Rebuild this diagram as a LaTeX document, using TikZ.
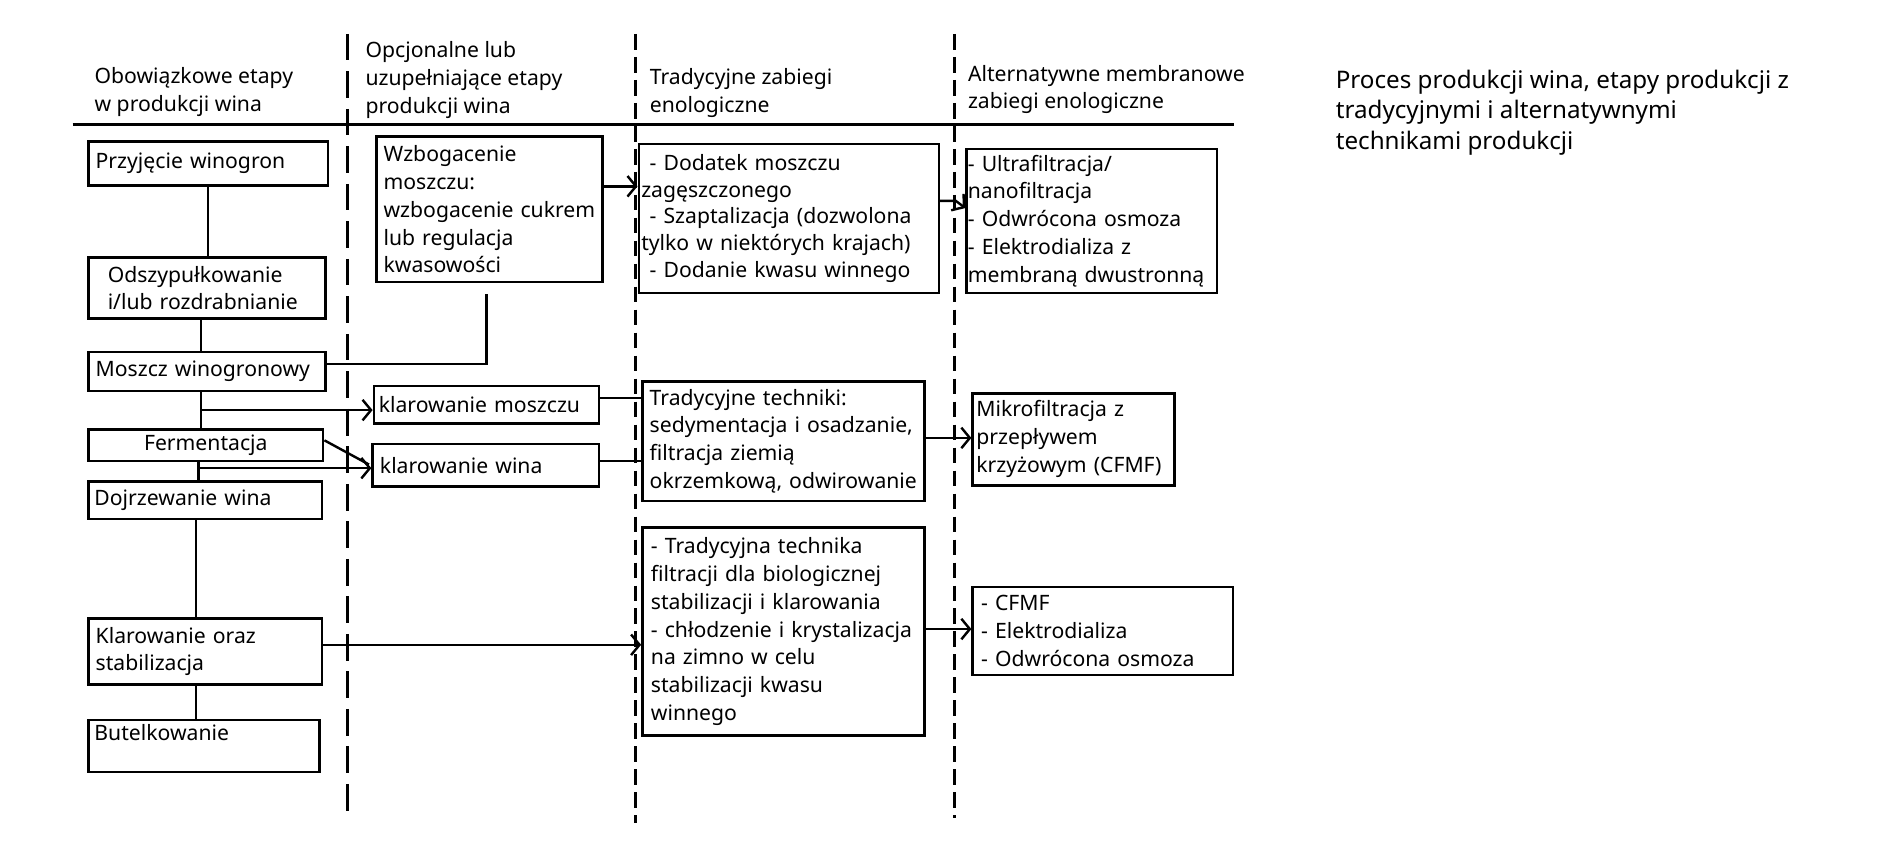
\documentclass[tikz,border=0pt]{standalone}
\usepackage{fontspec}
\setmainfont{Noto Sans}
\usetikzlibrary{arrows.meta,calc}
\newcommand\fs{\fontsize{17.5}{23}\selectfont}
\newcommand\fst{\fontsize{17.5}{22}\selectfont}
\newcommand\ind{\hspace*{7pt}}
\begin{document}
\begin{tikzpicture}[x=1pt,y=-1pt,
  bx/.style={draw, line width=2.2pt, anchor=north west, align=left, inner ysep=0pt, font=\fs},
  hd/.style={anchor=west, align=left, inner sep=0pt, font=\fs},
  ln/.style={line width=2pt},
  arr/.style={line width=2pt, -{Straight Barb[length=7pt,width=17pt,line width=2pt]}},
  dl1/.style={line width=2.4pt, dash pattern=on 22pt off 9pt},
  dl2/.style={line width=2.4pt, dash pattern=on 13pt off 6pt},
]
\useasboundingbox (0,0) rectangle (1564,698);

% header texts
\node[hd] (h1) at (78,76) {Obowiązkowe etapy\\w produkcji wina};
\node[hd] (h2) at (302,66) {Opcjonalne lub\\uzupełniające etapy\\produkcji wina};
\node[hd] (h3) at (537,77) {Tradycyjne zabiegi\\enologiczne};
\node[hd] (h4) at (800,74) {Alternatywne membranowe\\zabiegi enologiczne};
\node[hd, font=\fontsize{20}{25}\selectfont] (title) at (1104,93) {Proces produkcji wina, etapy produkcji z\\tradycyjnymi i alternatywnymi\\technikami produkcji};

% header rule and column separators
\draw[line width=2.5pt] (60,103) -- (1020,103);
\draw[dl1] (287,28) -- (287,672);
\draw[dl2] (525,28) -- (525,680);
\draw[dl2] (789,28) -- (789,676);

% column 1
\node[bx, inner xsep=6pt, text width=186pt, minimum height=36pt] (p1) at (72,116) {Przyjęcie winogron};
\node[bx, inner xsep=4pt, text width=188pt, minimum height=50pt] (p2) at (72,212) {\mbox{\hspace*{12pt}Odszypułkowanie}\\\mbox{\hspace*{12pt}i/lub rozdrabnianie}};
\node[bx, inner xsep=6pt, text width=184pt, minimum height=32pt] (p3) at (72,290) {Moszcz winogronowy};
\node[bx, inner xsep=6pt, text width=182pt, minimum height=26pt, align=center] (p4) at (72,354) {Fermentacja};
\node[bx, inner xsep=5pt, text width=183pt, minimum height=31pt] (p5) at (72,397) {Dojrzewanie wina};
\node[bx, inner xsep=6pt, text width=181pt, minimum height=55pt] (p6) at (72,510) {Klarowanie oraz\\stabilizacja};
\node[bx, inner xsep=5pt, text width=181pt, minimum height=43pt] (p7) at (72,594) {Butelkowanie\\\mbox{}};

% column 2
\node[bx, inner xsep=6pt, text width=175pt, minimum height=120pt] (w) at (310,112) {Wzbogacenie\\moszczu:\\wzbogacenie cukrem\\lub regulacja\\kwasowości};
\node[bx, inner xsep=4pt, text width=178pt, minimum height=31pt] (km) at (308,318) {klarowanie moszczu};
\node[bx, inner xsep=6pt, text width=175pt, minimum height=35pt] (kw) at (307,366) {klarowanie wina};

% column 3
\node[bx, font=\fst, inner xsep=2pt, text width=244pt, minimum height=123pt] (t1) at (527,118) {\ind- Dodatek moszczu\\zagęszczonego\\\ind- Szaptalizacja (dozwolona\\\mbox{tylko w niektórych krajach)}\\\ind- Dodanie kwasu winnego};
\node[bx, inner xsep=6pt, text width=221pt, minimum height=99pt] (t2) at (530,314) {Tradycyjne techniki:\\\mbox{sedymentacja i osadzanie,}\\filtracja ziemią\\\mbox{okrzemkową, odwirowanie}};
\node[bx, inner xsep=7pt, text width=219pt, minimum height=172pt] (t3) at (530,435) {- Tradycyjna technika\\filtracji dla biologicznej\\stabilizacji i klarowania\\\mbox{- chłodzenie i krystalizacja}\\na zimno w celu\\stabilizacji kwasu\\winnego};

% column 4
\node[bx, inner xsep=1pt, text width=205pt, minimum height=119pt] (m1) at (798,122) {- Ultrafiltracja/\\nanofiltracja\\- Odwrócona osmoza\\- Elektrodializa z\\\mbox{membraną dwustronną}};
\node[bx, inner xsep=3pt, text width=161pt, minimum height=76pt] (m2) at (803,324) {Mikrofiltracja z\\przepływem\\\mbox{krzyżowym (CFMF)}};
\node[bx, inner xsep=7pt, text width=201pt, minimum height=73pt] (m3) at (803,484) {- CFMF\\- Elektrodializa\\- Odwrócona osmoza};

% junction coordinates
\coordinate (j1) at (166,339);
\coordinate (j2) at (164,387);
\coordinate (wfree) at (402,243);
\coordinate (k1) at (790,166);

% column 1 links
\draw[ln] (p1.south -| 172,0) -- (p2.north -| 172,0);
\draw[ln] (p2.south -| 166,0) -- (p3.north -| 166,0);
\draw[ln] (p3.south -| 166,0) -- (p4.north -| 166,0);
\draw[ln] (p4.south -| 164,0) -- (p5.north -| 164,0);
\draw[ln] (p5.south -| 162,0) -- (p6.north -| 162,0);
\draw[ln] (p6.south -| 162,0) -- (p7.north -| 162,0);

% branches
\draw[arr] (j1) -- (km.west |- j1);
\draw[arr] (j2) -- (kw.west |- j2);
\draw[ln] (p4.east |- 0,364) -- (305,384);
\draw[ln] (p3.east |- 0,301) -| (wfree);
\draw[arr] (p6.east |- 0,533) -- (t3.west |- 0,533);

% to traditional
\draw[arr] (w.east |- 0,154) -- (t1.west |- 0,154);
\draw[ln] (km.east |- 0,329) -- (t2.west |- 0,329);
\draw[ln] (kw.east |- 0,381) -- (t2.west |- 0,381);

% to membrane
\draw[arr] (t1.east |- k1) -- (k1) -- (m1.west |- 0,172);
\draw[arr] (t2.east |- 0,362) -- (m2.west |- 0,362);
\draw[arr] (t3.east |- 0,520) -- (m3.west |- 0,520);
\end{tikzpicture}
\end{document}
